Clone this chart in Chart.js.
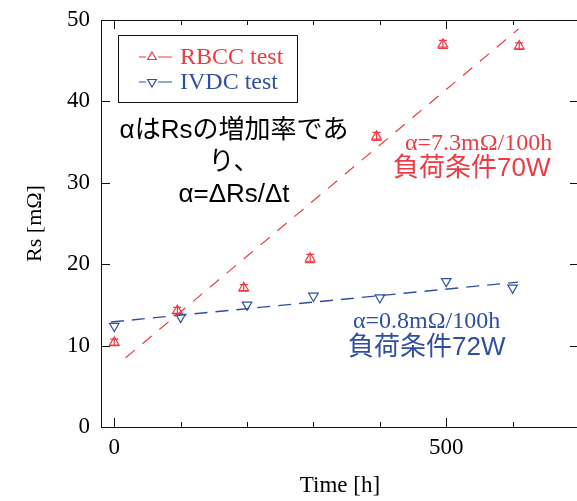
<!DOCTYPE html>
<html>
<head>
<meta charset="utf-8">
<script src="https://cdn.jsdelivr.net/npm/chart.js@4/dist/chart.umd.min.js"></script>
<style>
  html, body { margin: 0; padding: 0; background: #fff; overflow: hidden; }
  #wrap { width: 577px; height: 501px; overflow: hidden; }
</style>
</head>
<body>
<div id="wrap"><canvas id="rsChart" width="580" height="501"></canvas></div>
<script>
const rbccTime = [0, 95, 195, 295, 395, 495, 610];
const rbccRs = [10.4, 14.3, 17.1, 20.7, 35.7, 47.0, 46.8];
const rbccErr = [0.4, 0.4, 0.4, 0.5, 0.5, 0.5, 0.4];

const ivdcTime = [0, 100, 200, 300, 400, 500, 600];
const ivdcRs = [12.4, 13.5, 15.0, 16.1, 15.9, 17.9, 17.1];

// dashed fit lines (end points)
const rbccFitTime = [17, 609];
const rbccFitRs = [8.5, 48.9];
const ivdcFitTime = [-5, 608];
const ivdcFitRs = [12.9, 17.8];

const xTicks = [0, 500];
const xMinorTicks = [0, 100, 200, 300, 400, 500, 600];
const yTicks = [0, 10, 20, 30, 40, 50];

const RED = '#ec3b45';
const BLUE = '#2f4f9f';
const SERIF = '"Liberation Serif", "Times New Roman", serif';
const SANS = '"Liberation Sans", "Noto Sans CJK JP", sans-serif';

function toPoints(xs, ys) {
    return xs.map((x, i) => ({ x: x, y: ys[i] }));
}

// frame with inward ticks on all four sides
const framePlugin = {
    id: 'frame',
    afterDraw(chart) {
        const ctx = chart.ctx;
        const a = chart.chartArea;
        const xs = chart.scales.x, ys = chart.scales.y;
        ctx.save();
        ctx.strokeStyle = '#111';
        ctx.lineWidth = 1;
        ctx.strokeRect(Math.round(a.left) + 0.5, Math.round(a.top) + 0.5,
            Math.round(a.right - a.left), Math.round(a.bottom - a.top));
        ctx.beginPath();
        xMinorTicks.forEach(v => {
            const px = Math.round(xs.getPixelForValue(v)) + 0.5;
            const len = xTicks.includes(v) ? 9 : 5;
            ctx.moveTo(px, a.bottom); ctx.lineTo(px, a.bottom - len);
            ctx.moveTo(px, a.top); ctx.lineTo(px, a.top + len);
        });
        yTicks.forEach(v => {
            const py = Math.round(ys.getPixelForValue(v)) + 0.5;
            ctx.moveTo(a.left, py); ctx.lineTo(a.left + 9, py);
            ctx.moveTo(a.right, py); ctx.lineTo(a.right - 9, py);
        });
        ctx.stroke();
        ctx.restore();
    }
};

// small error bars on the RBCC points
const errorBarPlugin = {
    id: 'errorBars',
    afterDatasetsDraw(chart) {
        const ctx = chart.ctx;
        const xs = chart.scales.x, ys = chart.scales.y;
        ctx.save();
        ctx.strokeStyle = RED;
        ctx.lineWidth = 1.2;
        ctx.beginPath();
        rbccTime.forEach((t, i) => {
            const px = xs.getPixelForValue(t);
            const top = ys.getPixelForValue(rbccRs[i] + rbccErr[i]);
            const bot = ys.getPixelForValue(rbccRs[i] - rbccErr[i]);
            ctx.moveTo(px, top); ctx.lineTo(px, bot);
            ctx.moveTo(px - 4, top); ctx.lineTo(px + 4, top);
            ctx.moveTo(px - 5, bot); ctx.lineTo(px + 5, bot);
        });
        ctx.stroke();
        ctx.restore();
    }
};

function drawTri(ctx, x, y, r, down) {
    const s = down ? -1 : 1;
    ctx.beginPath();
    ctx.moveTo(x, y - s * r);
    ctx.lineTo(x + r * 0.866, y + s * r / 2);
    ctx.lineTo(x - r * 0.866, y + s * r / 2);
    ctx.closePath();
    ctx.fillStyle = '#fff';
    ctx.fill();
    ctx.stroke();
}

// legend box and text notes
const notesPlugin = {
    id: 'notes',
    afterDraw(chart) {
        const ctx = chart.ctx;
        ctx.save();
        // legend
        ctx.strokeStyle = '#111';
        ctx.lineWidth = 1;
        ctx.strokeRect(118.5, 35.5, 179, 67);
        const rows = [
            { label: 'RBCC test', color: RED, y: 57, down: false },
            { label: 'IVDC test', color: BLUE, y: 82, down: true }
        ];
        rows.forEach(r => {
            ctx.strokeStyle = r.color;
            ctx.lineWidth = 1.2;
            ctx.beginPath();
            ctx.moveTo(139, r.y); ctx.lineTo(146, r.y);
            ctx.moveTo(158, r.y); ctx.lineTo(172, r.y);
            ctx.stroke();
            drawTri(ctx, 152, r.y, 5, r.down);
            ctx.fillStyle = r.color;
            ctx.font = '24px ' + SERIF;
            ctx.textAlign = 'left';
            ctx.textBaseline = 'middle';
            ctx.fillText(r.label, 180, r.y + 1);
        });

        // explanation
        ctx.fillStyle = '#000';
        ctx.font = '26px ' + SANS;
        ctx.textAlign = 'center';
        ctx.textBaseline = 'middle';
        ctx.fillText('αはRsの増加率であ', 234, 131);
        ctx.fillText('り、', 234, 163);
        ctx.fillText('α=ΔRs/Δt', 234, 195);

        // slopes
        ctx.textAlign = 'left';
        ctx.fillStyle = RED;
        ctx.font = '24px ' + SERIF;
        ctx.fillText('α=7.3mΩ/100h', 405, 144);
        ctx.font = '26px ' + SANS;
        ctx.fillText('負荷条件70W', 393, 169);

        ctx.fillStyle = BLUE;
        ctx.font = '24px ' + SERIF;
        ctx.fillText('α=0.8mΩ/100h', 353, 322);
        ctx.font = '26px ' + SANS;
        ctx.fillText('負荷条件72W', 348, 348);
        ctx.restore();
    }
};

const ctx = document.getElementById('rsChart').getContext('2d');
const rsChart = new Chart(ctx, {
    type: 'scatter',
    data: {
        datasets: [{
            label: 'RBCC fit',
            data: toPoints(rbccFitTime, rbccFitRs),
            showLine: true,
            borderColor: RED,
            borderWidth: 1.2,
            borderDash: [12, 10],
            pointRadius: 0
        }, {
            label: 'IVDC fit',
            data: toPoints(ivdcFitTime, ivdcFitRs),
            showLine: true,
            borderColor: BLUE,
            borderWidth: 1.4,
            borderDash: [13, 8],
            pointRadius: 0
        }, {
            label: 'RBCC test',
            data: toPoints(rbccTime, rbccRs),
            pointStyle: 'triangle',
            pointRadius: 5.5,
            pointBorderWidth: 1.2,
            borderColor: RED,
            backgroundColor: 'rgba(255,255,255,0)'
        }, {
            label: 'IVDC test',
            data: toPoints(ivdcTime, ivdcRs),
            pointStyle: 'triangle',
            rotation: 180,
            pointRadius: 5.5,
            pointBorderWidth: 1.2,
            borderColor: BLUE,
            backgroundColor: 'rgba(255,255,255,0)'
        }]
    },
    options: {
        responsive: false,
        animation: false,
        layout: { autoPadding: false, padding: { top: 20, right: 1, left: 0, bottom: 0 } },
        plugins: {
            legend: { display: false },
            tooltip: { enabled: false }
        },
        scales: {
            x: {
                type: 'linear',
                min: -20,
                max: 700,
                grid: { display: false, drawTicks: false },
                border: { display: false },
                afterBuildTicks: scale => {
                    scale.ticks = xMinorTicks.map(v => ({ value: v }));
                },
                ticks: {
                    padding: 7,
                    color: '#000',
                    font: { family: SERIF, size: 23 },
                    maxRotation: 0,
                    autoSkip: false,
                    callback: v => xTicks.includes(v) ? String(v) : ''
                },
                title: {
                    display: true,
                    text: 'Time [h]',
                    color: '#000',
                    font: { family: SERIF, size: 23 },
                    padding: { top: 0, bottom: 1 }
                },
                afterFit: scale => {
                    scale.height = 74;
                    scale.paddingLeft = 0;
                    scale.paddingRight = 0;
                }
            },
            y: {
                min: 0,
                max: 50,
                grid: { display: false, drawTicks: false },
                border: { display: false },
                ticks: {
                    stepSize: 10,
                    padding: 11,
                    color: '#000',
                    font: { family: SERIF, size: 23 }
                },
                title: {
                    display: true,
                    text: 'Rs [mΩ]',
                    color: '#000',
                    font: { family: SERIF, size: 22 },
                    padding: { top: 22, bottom: 0 }
                },
                afterFit: scale => {
                    scale.width = 101;
                    scale.paddingTop = 0;
                    scale.paddingBottom = 0;
                }
            }
        }
    },
    plugins: [framePlugin, errorBarPlugin, notesPlugin]
});
</script>
</body>
</html>
